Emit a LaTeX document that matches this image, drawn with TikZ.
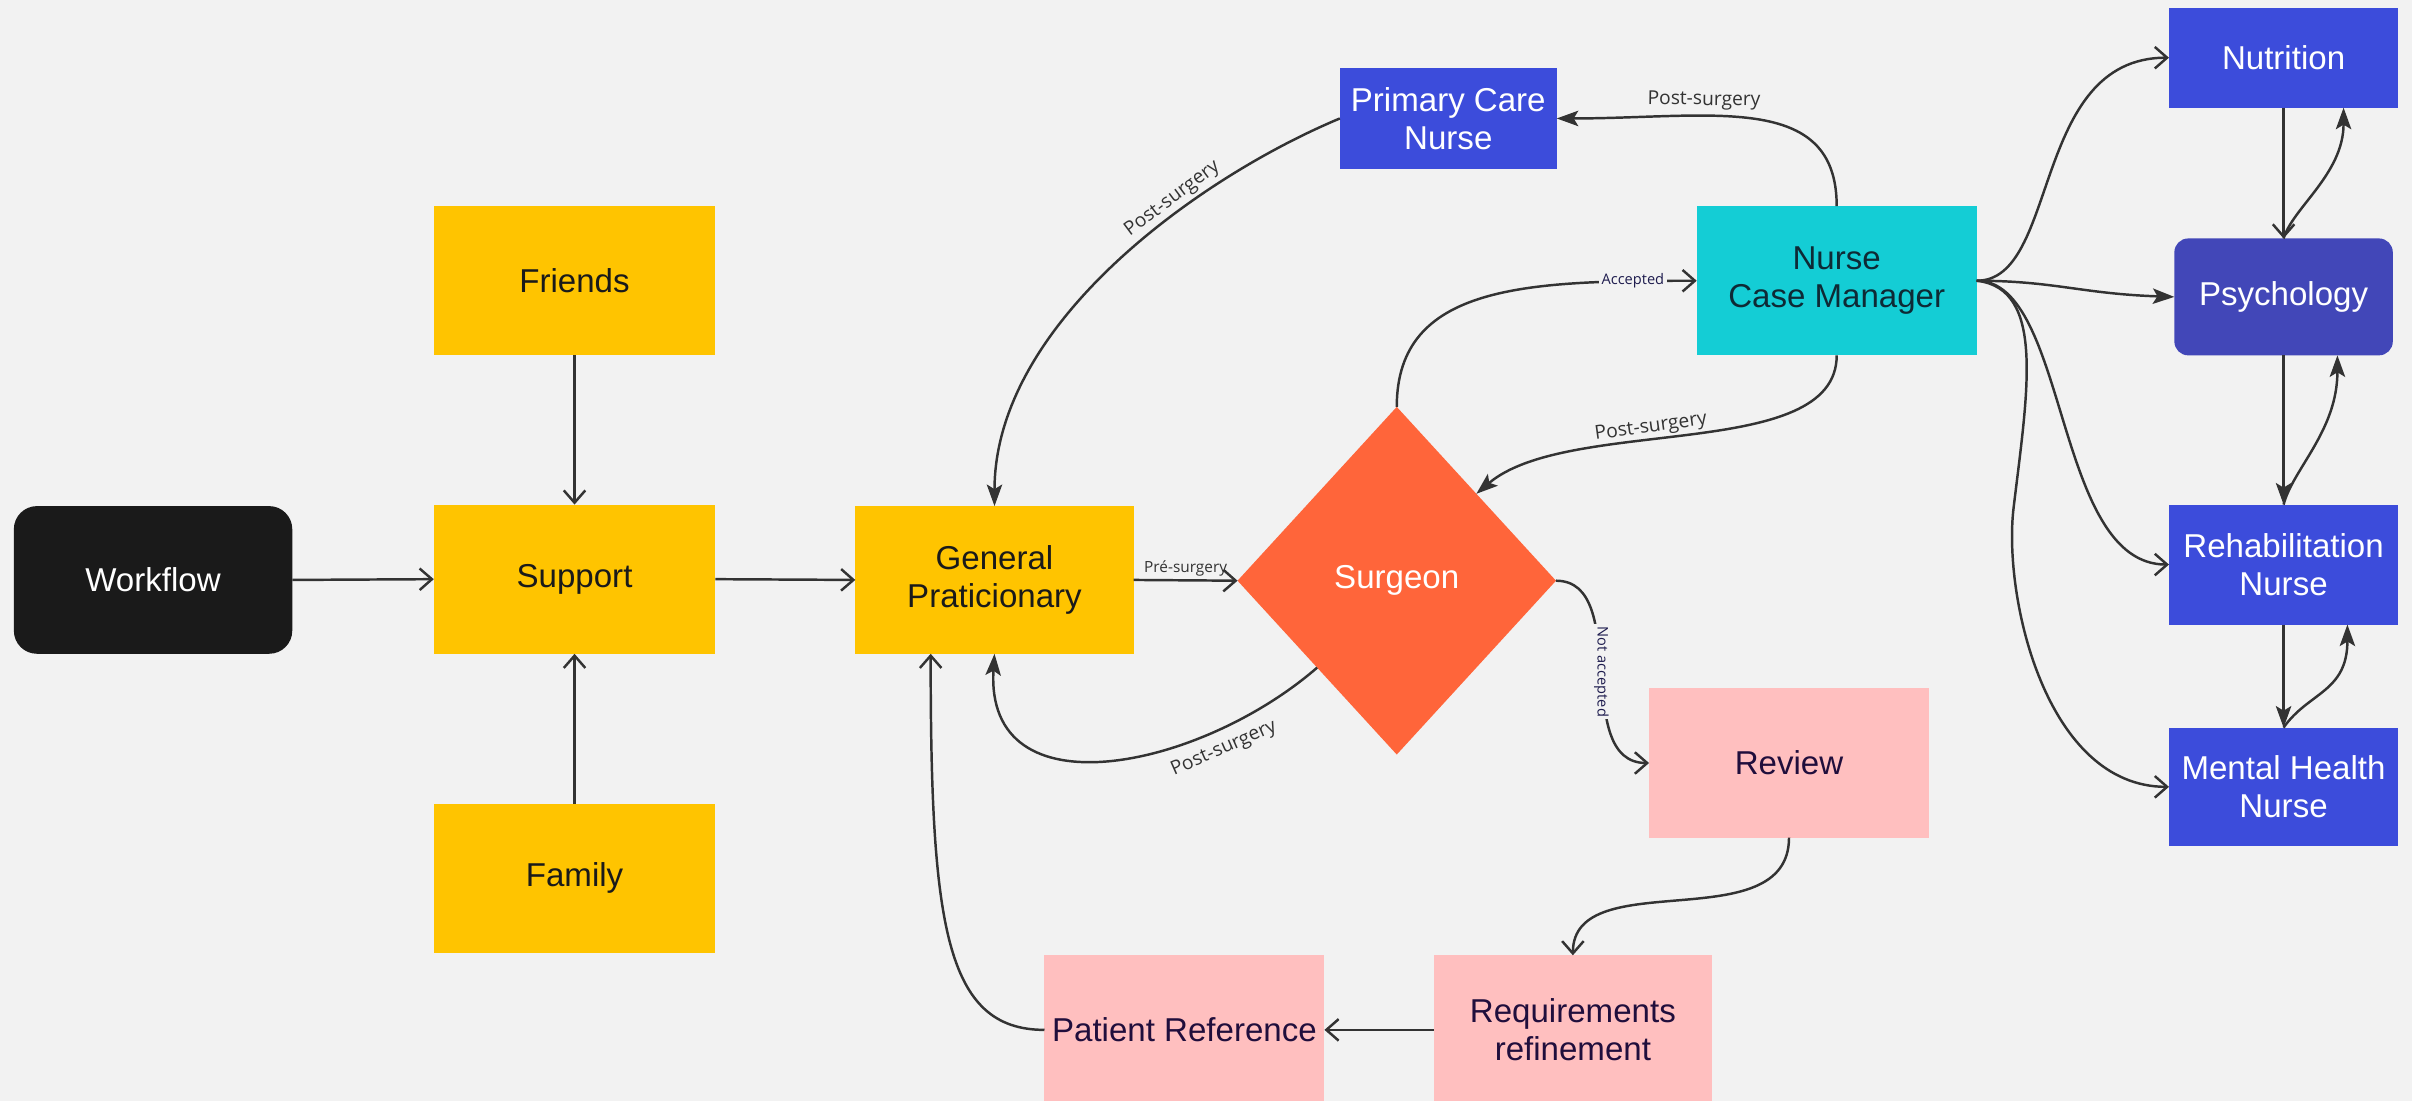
\documentclass[tikz,border=0pt]{standalone}
\usepackage{fontspec}
\usetikzlibrary{arrows.meta,shapes.geometric,calc}
\newfontfamily\nodefnt{Liberation Sans}
\newfontfamily\lblfnt{Open Sans}
\definecolor{bgc}{HTML}{F2F2F2}
\definecolor{ylw}{HTML}{FFC400}
\definecolor{blk}{HTML}{1A1A1A}
\definecolor{org}{HTML}{FF653A}
\definecolor{blu}{HTML}{3C4CDB}
\definecolor{psyc}{HTML}{4247B8}
\definecolor{cyn}{HTML}{14CDD5}
\definecolor{pnk}{HTML}{FFBFBF}
\definecolor{lnc}{HTML}{333333}
\definecolor{pnktxt}{HTML}{200E3C}
\definecolor{cyntxt}{HTML}{0E2A35}
\definecolor{navy}{HTML}{1E1C4E}
\begin{document}
\begin{tikzpicture}[x=1pt,y=-1pt,
  nfont/.style={font=\nodefnt\fontsize{21.5}{25}\selectfont},
  box/.style={rectangle,inner sep=0pt,outer sep=0pt,align=center,nfont},
  ybox/.style={box,fill=ylw,text=blk,minimum width=183pt,minimum height=97pt},
  pbox/.style={box,fill=pnk,text=pnktxt,minimum width=182pt,minimum height=97pt},
  bbox/.style={box,fill=blu,text=white,minimum width=149pt},
  conn/.style={draw=lnc,line width=1.6pt},
  arO/.style={conn,-{Straight Barb[length=8pt,width=14pt]}},
  arF/.style={conn,-{Stealth[length=14pt,width=10pt,inset=3pt]}},
  lbl/.style={font=\lblfnt\fontsize{12.5}{14}\selectfont,text=lnc,inner sep=2pt},
  plbl/.style={font=\lblfnt\fontsize{10}{12}\selectfont,text=lnc,inner sep=2pt},
  slbl/.style={font=\lblfnt\fontsize{9.5}{11}\selectfont,text=navy,fill=bgc,inner sep=1.5pt},
]
\useasboundingbox (0,0) rectangle (1568,715.7);
\clip (0,0) rectangle (1568,715.7);
\fill[bgc] (0,0) rectangle (1568,715.7);

% nodes
\node[box,fill=blk,text=white,rounded corners=15pt,minimum width=181pt,minimum height=96pt] (wf) at (99.5,377) {Workflow};
\node[ybox] (fr) at (373.5,182.5) {Friends};
\node[ybox] (sup) at (373.5,376.5) {Support};
\node[ybox] (fam) at (373.5,571) {Family};
\node[ybox,minimum width=181pt,minimum height=96pt] (gp) at (646.5,377) {General\\Praticionary};
\node[diamond,fill=org,text=white,inner sep=0pt,outer sep=0pt,minimum width=207pt,minimum height=226pt,nfont] (sur) at (908,377.5) {Surgeon};
\node[box,fill=blu,text=white,minimum width=141pt,minimum height=66pt] (pcn) at (941.5,77) {Primary Care\\Nurse};
\node[box,fill=cyn,text=cyntxt,minimum width=182pt,minimum height=97pt] (ncm) at (1194,182.5) {Nurse\\Case Manager};
\node[pbox] (rev) at (1163,496) {Review};
\node[pbox,minimum width=181pt] (req) at (1022.5,669.5) {Requirements\\refinement};
\node[pbox] (pr) at (770,669.5) {Patient Reference};
\node[bbox,minimum height=65pt] (nut) at (1484.5,37.5) {Nutrition};
\node[box,fill=psyc,text=white,rounded corners=9pt,minimum width=142pt,minimum height=76pt] (psy) at (1484.5,193) {Psychology};
\node[bbox,minimum height=78pt] (reh) at (1484.5,367) {Rehabilitation\\Nurse};
\node[bbox,minimum height=77pt] (men) at (1484.5,511.5) {Mental Health\\Nurse};

% left part
\draw[arO] (wf.east) -- (sup.west);
\draw[arO] (fr.south) -- (sup.north);
\draw[arO] (fam.north) -- (sup.south);
\draw[arO] (sup.east) -- (gp.west);
\draw[arO] (gp.east) -- node[plbl,above] {Pré-surgery} (sur.west);

% to general praticionary
\draw[arF] (pcn.west) .. controls +(-91,38) and +(0,-119) .. (gp.north)
  node[lbl,pos=0.35,sloped,above] {Post-surgery};
\draw[arF] (sur.south west) .. controls +(-76,66) and +(-6.5,105) .. (gp.south)
  node[lbl,pos=0.25,sloped,below=4pt] {Post-surgery};
\draw[arO] (pr.west) .. controls +(-65,0) and +(0,175) .. ($(gp.south)+(-41.5,0)$);

% surgeon / nurse case manager
\draw[arO] (sur.north) .. controls +(0,-80) and +(-110,0) .. (ncm.west)
  node[slbl,pos=0.87] {Accepted};
\draw[arF] (ncm.south) .. controls +(0,70) and +(60,-51) .. (sur.north east)
  node[lbl,pos=0.58,sloped,above] {Post-surgery};
\draw[arF] (ncm.north) .. controls +(0,-75) and +(100,0) .. (pcn.east)
  node[lbl,pos=0.65,sloped,above=1pt] {Post-surgery};

% not accepted loop
\draw[arO] (sur.east) .. controls +(49,0) and +(-51,0) .. (rev.west)
  node[slbl,pos=0.5,rotate=-90] {Not accepted};
\draw[arO] (rev.south) .. controls +(0,67) and +(0,-60) .. (req.north);
\draw[arO] (req.west) -- (pr.east);

% fan to the right column
\draw[arO] (ncm.east) .. controls +(54,0) and +(-90,0) .. (nut.west);
\draw[arF] (ncm.east) .. controls +(50,0) and +(-60,-2) .. (psy.west);
\draw[arO] (ncm.east) .. controls +(60,0) and +(-75,0) .. (reh.west);
\draw[arO] (ncm.east) .. controls +(45,5) and +(9,-75) .. ($(ncm.east)+(24,147.5)$)
  .. controls +(-7,58) and +(-80,0) .. (men.west);

% right column
\draw[arO] (nut.south) -- (psy.north);
\draw[arF] (psy.north) .. controls +(6,-20) and +(0,43) .. ($(nut.south)+(39,0)$);
\draw[arF] (psy.south) -- (reh.north);
\draw[arF] (reh.north) .. controls +(6,-23) and +(0,49) .. ($(psy.south)+(35,0)$);
\draw[arF] (reh.south) -- (men.north);
\draw[arF] (men.north) .. controls +(16,-23) and +(0,44) .. ($(reh.south)+(41.5,0)$);
\end{tikzpicture}
\end{document}
